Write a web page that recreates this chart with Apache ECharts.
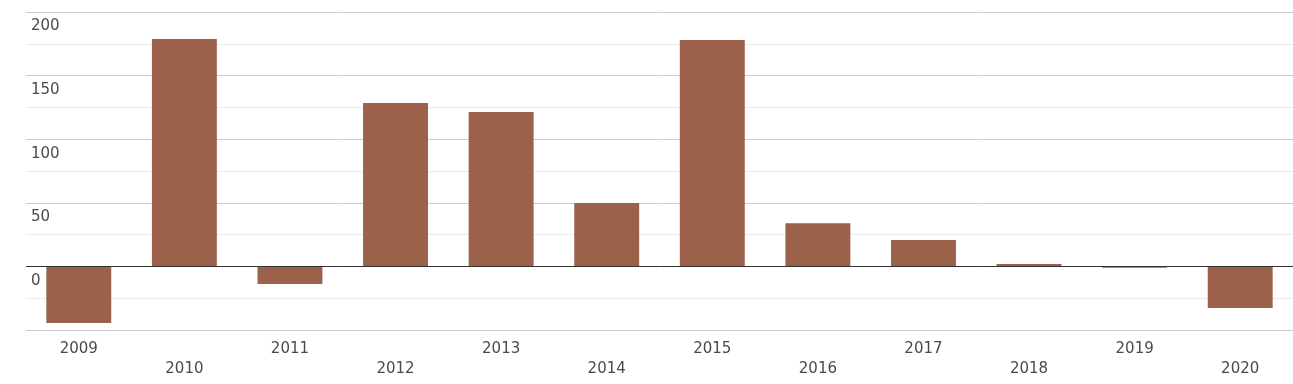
<!DOCTYPE html>
<html>
<head>
<meta charset="utf-8">
<script src="https://cdn.jsdelivr.net/npm/echarts@6/dist/echarts.min.js"></script>
<style>html,body{margin:0;padding:0;background:#fff}#c{width:1293px;height:384px}</style>
</head>
<body>
<div id="c"></div>
<script>
const categories = ['2009','2010','2011','2012','2013','2014','2015','2016','2017','2018','2019','2020'];
const values = [-44.5, 178.7, -13.8, 128.4, 121.3, 49.8, 178.0, 34.0, 20.7, 1.8, -1.0, -32.8];
const yTicks = { min: -50, max: 200, interval: 50 };

const chart = echarts.init(document.getElementById('c'), null, { renderer: 'canvas' });
chart.setOption({
  animation: false,
  textStyle: { fontFamily: 'DejaVu Sans' },
  grid: { left: 26, right: 0, top: 12, bottom: 54, containLabel: false },
  xAxis: {
    type: 'category',
    data: categories,
    axisLine: { onZero: false, lineStyle: { color: '#cccccc', width: 1 } },
    axisTick: { show: false },
    axisLabel: {
      interval: 0,
      color: '#4a4a4a',
      fontSize: 15,
      margin: 9,
      lineHeight: 20,
      formatter: function (v, i) { return i % 2 ? '\n' + v : v; }
    }
  },
  yAxis: {
    type: 'value',
    min: yTicks.min,
    max: yTicks.max,
    interval: yTicks.interval,
    axisLine: { show: false },
    axisTick: { show: false },
    axisLabel: {
      inside: true,
      showMinLabel: false,
      color: '#4a4a4a',
      fontSize: 15,
      margin: 5,
      verticalAlign: 'top',
      padding: [7, 0, 0, 0]
    },
    splitLine: { lineStyle: { color: '#cccccc', width: 1 } },
    minorTick: { show: false, splitNumber: 2 },
    minorSplitLine: { show: true, lineStyle: { color: '#ebebeb', width: 1 } }
  },
  series: [{
    type: 'bar',
    data: values,
    barWidth: '61.5%',
    itemStyle: { color: '#9b614a' },
    markLine: {
      silent: true,
      symbol: 'none',
      label: { show: false },
      lineStyle: { color: '#333333', width: 1, type: 'solid' },
      data: [{ yAxis: 0 }]
    }
  }]
});
</script>
</body>
</html>
